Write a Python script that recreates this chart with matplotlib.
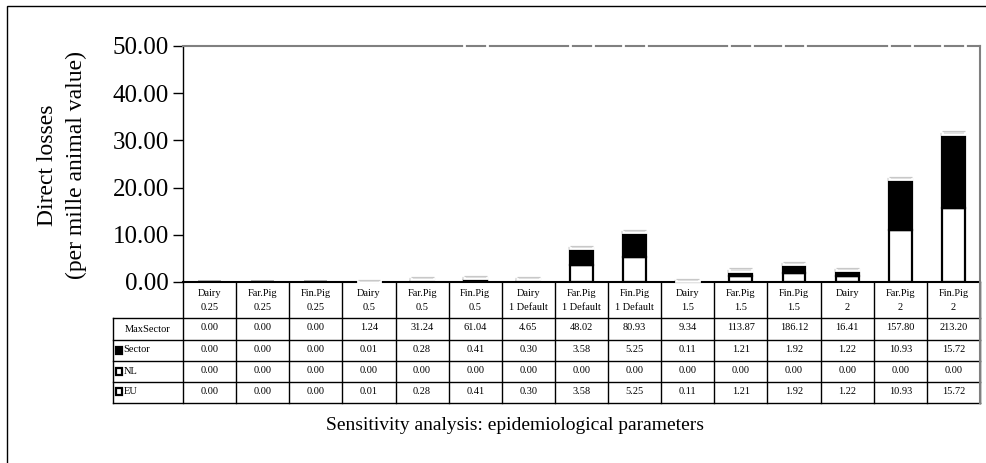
import numpy as np
import matplotlib
matplotlib.use('Agg')
import matplotlib.pyplot as plt
from matplotlib.patches import Rectangle

plt.rcParams['font.family'] = ['Liberation Serif', 'DejaVu Serif']

# --- Data --------------------------------------------------------------------------------------------------------------
farms = ['Dairy', 'Far.Pig', 'Fin.Pig'] * 5
params = ['0.25'] * 3 + ['0.5'] * 3 + ['1 Default'] * 3 + ['1.5'] * 3 + ['2'] * 3
max_sector = [0.00, 0.00, 0.00, 1.24, 31.24, 61.04, 4.65, 48.02, 80.93, 9.34, 113.87, 186.12, 16.41, 157.80, 213.20]
sector = [0.00, 0.00, 0.00, 0.01, 0.28, 0.41, 0.30, 3.58, 5.25, 0.11, 1.21, 1.92, 1.22, 10.93, 15.72]
nl = [0.00] * 15
eu = [0.00, 0.00, 0.00, 0.01, 0.28, 0.41, 0.30, 3.58, 5.25, 0.11, 1.21, 1.92, 1.22, 10.93, 15.72]

y_max = 50
y_ticks = [0, 10, 20, 30, 40, 50]

# --- Figure -----------------------------------------------------------------------------------------------------------
W, H = 986, 463
fig = plt.figure(figsize=(W / 100, H / 100), dpi=100)
fig.add_artist(Rectangle((7 / W, -0.1), 1.2, 1 - 6 / H + 0.1, transform=fig.transFigure,
                         fill=False, edgecolor='black', lw=1.0))

ax = fig.add_axes([183 / W, 1 - 282 / H, 797 / W, 236 / H])
x = np.arange(len(farms))
bw = 0.43
eu_a = np.array(eu)
nl_a = np.array(nl)
sec_a = np.array(sector)
max_a = np.array(max_sector)
total = eu_a + nl_a + sec_a

ax.bar(x, eu_a, bw, color='white', edgecolor='black', lw=1.6, zorder=2)
ax.bar(x, nl_a, bw, bottom=eu_a, color='white', edgecolor='black', lw=1.6, zorder=2)
ax.bar(x, sec_a, bw, bottom=eu_a + nl_a, color='black', edgecolor='black', lw=1.6, zorder=2)

# MaxSector: white bars stacked on top (only their edges show, cut off above the axis)
m = max_a > 0
tops = np.where(total + max_a > y_max, y_max + 1.0, total + max_a)
ax.bar(x[m], (tops - total)[m], bw, bottom=total[m], fill=False, edgecolor='white', lw=2.0,
       clip_on=False, zorder=4)
ax.hlines(total[m] + 0.45, x[m] - bw / 2, x[m] + bw / 2, color='#c8c8c8', lw=0.9, zorder=5)

ax.set_xlim(-0.5, len(farms) - 0.5)
ax.set_ylim(0, y_max)
ax.set_yticks(y_ticks)
ax.set_yticklabels([f'{v:.2f}' for v in y_ticks], fontsize=18)
ax.set_xticks([])
ax.tick_params(axis='y', direction='out', length=7, width=1.0, pad=3)
for s in ['top', 'right']:
    ax.spines[s].set_color('#808080')
    ax.spines[s].set_linewidth(1.5)
ax.spines['left'].set_linewidth(1.0)
ax.spines['bottom'].set_linewidth(1.5)

fig.text(62 / W, 1 - 165 / H, 'Direct losses\n(per mille animal value)', rotation=90,
         ha='center', va='center', fontsize=17, linespacing=1.45)
fig.text(515 / W, 1 - 425 / H, 'Sensitivity analysis: epidemiological parameters',
         ha='center', va='center', fontsize=14)

# --- Data table -------------------------------------------------------------------------------------------------------
tab = fig.add_axes([113 / W, 1 - 403 / H, 867 / W, 121 / H])
lab_w = 70 / (797 / len(farms))
tab.set_xlim(-0.5 - lab_w, len(farms) - 0.5)
rows_y = [282, 318, 340, 361, 382, 403]
tab.set_ylim(403, 282)
tab.axis('off')
left = -0.5 - lab_w
right = len(farms) - 0.5

for yy in rows_y[1:]:
    tab.plot([left, right], [yy, yy], color='black', lw=1.0, clip_on=False)
for i in range(len(farms) + 1):
    tab.plot([i - 0.5, i - 0.5], [rows_y[0], rows_y[-1]], color='black', lw=1.0, clip_on=False)
tab.plot([left, left], [rows_y[1], rows_y[-1]], color='black', lw=1.0, clip_on=False)
tab.plot([right, right], [rows_y[0], rows_y[-1]], color='#808080', lw=1.5, clip_on=False)

fs = 7.5
for i in range(len(farms)):
    tab.text(i, 293, farms[i], ha='center', va='center', fontsize=fs)
    tab.text(i, 308, params[i], ha='center', va='center', fontsize=fs)

row_names = ['MaxSector', 'Sector', 'NL', 'EU']
row_vals = [max_sector, sector, nl, eu]
key_face = [None, 'black', 'white', 'white']
for r, (name, vals) in enumerate(zip(row_names, row_vals)):
    yc = (rows_y[r + 1] + rows_y[r + 2]) / 2 - 1
    for i, v in enumerate(vals):
        tab.text(i, yc, f'{v:.2f}', ha='center', va='center', fontsize=fs)
    if key_face[r] is None:
        tab.text(left + lab_w / 2, yc + 1, name, ha='center', va='center', fontsize=fs)
    else:
        kx = left + 2.5 / 53.13
        tab.add_patch(Rectangle((kx, yc - 3), 6.5 / 53.13, 7, facecolor=key_face[r],
                                edgecolor='black', lw=1.6))
        tab.text(kx + 8 / 53.13, yc + 0.5, name, ha='left', va='center', fontsize=fs)

fig.savefig('out.png', dpi=100)
